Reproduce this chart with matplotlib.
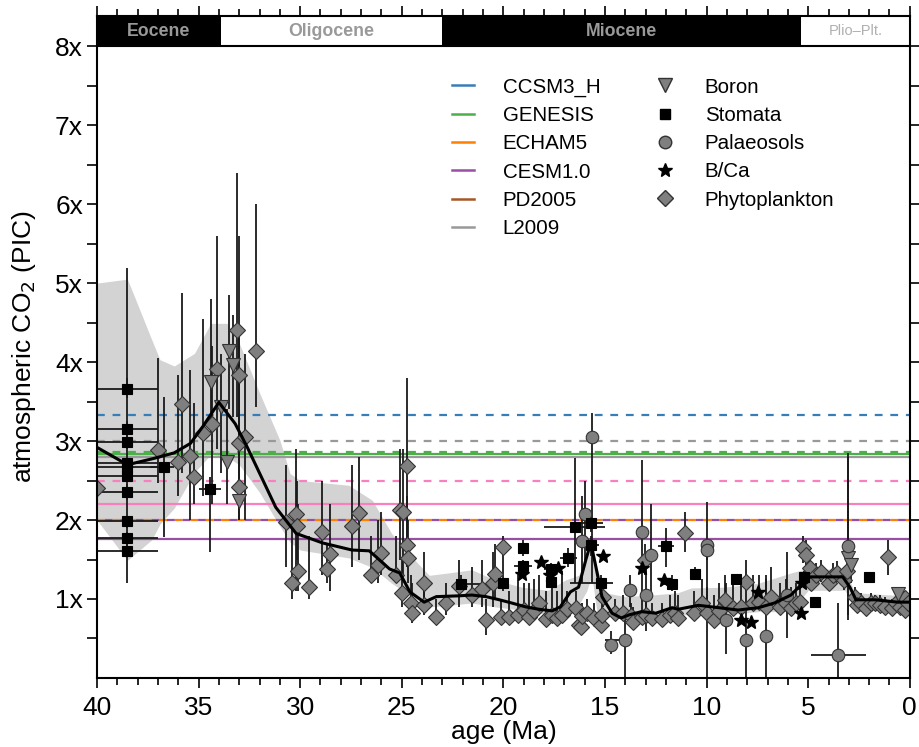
import numpy as np
import matplotlib
matplotlib.use("Agg")
import matplotlib.pyplot as plt
from matplotlib.lines import Line2D
from matplotlib.ticker import MultipleLocator, FixedLocator

plt.rcParams["font.family"] = ["Liberation Sans", "DejaVu Sans"]

# epochs (start, end, name)
epochs = [(40.0, 33.9, "Eocene"), (33.9, 23.03, "Oligocene"),
          (23.03, 5.33, "Miocene"), (5.33, 0.0, "Plio\u2013Plt.")]

# model CO2 levels (PIC multiples)
model_names = ["CCSM3_H", "GENESIS", "ECHAM5", "CESM1.0", "PD2005", "L2009"]
model_colors = ["#377eb8", "#4daf4a", "#ff7f00", "#984ea3", "#a65628", "#999999"]
model_solid = [None, 2.84, None, 1.76, None, 2.80]
model_dashed = [3.33, 2.86, 2.0, 2.0, None, 3.0]
pink_solid = 2.2
pink_dashed = 2.5

# smoothed median curve
med_age = [40.0, 38.5, 37.2, 36.2, 35.4, 34.8, 34.0, 33.2, 32.6, 31.2, 30.2, 28.9,
           27.45, 26.6, 25.6, 25.1, 24.6, 23.9, 23.3, 22.2, 21.55, 20.85, 20.2, 19.6,
           18.9, 18.25, 17.6, 17.2, 16.7, 16.3, 15.95, 15.7, 15.45, 15.15, 14.65, 14.2,
           13.8, 13.2, 12.5, 11.7, 11.4, 10.4, 9.4, 8.45, 7.45, 6.65, 5.85, 5.35, 4.9,
           4.2, 3.3, 2.95, 2.65, 1.7, 0.6, 0.0]
med_co2 = [2.92, 2.70, 2.78, 2.85, 2.97, 3.18, 3.49, 3.22, 2.92, 2.16, 1.83, 1.71,
           1.62, 1.61, 1.38, 1.33, 1.09, 0.96, 1.03, 1.04, 1.05, 1.03, 0.99, 0.95,
           0.90, 0.87, 0.85, 0.90, 1.09, 1.15, 1.49, 1.71, 1.41, 1.03, 0.82, 0.76,
           0.80, 0.84, 0.82, 0.89, 0.87, 0.92, 0.89, 0.86, 0.89, 0.95, 1.05, 1.18, 1.28,
           1.28, 1.28, 1.15, 0.99, 0.99, 0.96, 0.96]

# uncertainty envelope
band_age = [40.0, 38.5, 37.3, 36.9, 36.2, 35.2, 34.4, 33.6, 33.0, 32.0, 31.0, 30.5,
            30.0, 27.6, 26.45, 25.5, 24.5, 23.65, 22.7, 21.55, 20.4, 19.1, 17.8,
            16.95, 16.3, 15.9, 15.65, 15.4, 15.0, 14.0, 12.7, 11.4, 10.75, 9.1, 7.45,
            5.85, 5.0, 3.2, 2.7, 0.9, 0.0]
band_hi = [5.00, 5.05, 4.28, 4.03, 3.95, 4.11, 4.49, 4.49, 4.24, 3.61, 3.01, 2.59,
           2.50, 2.44, 2.25, 1.83, 1.53, 1.30, 1.33, 1.37, 1.24, 1.15, 1.11,
           1.24, 1.30, 1.50, 1.80, 1.40, 1.08, 1.03, 1.05, 1.08, 1.14, 1.15, 1.20,
           1.33, 1.39, 1.37, 1.08, 1.05, 1.05]
band_lo = [2.00, 1.49, 1.75, 1.95, 2.15, 2.60, 2.83, 2.80, 2.70, 2.35, 1.92, 1.72,
           1.62, 1.52, 1.40, 1.20, 1.03, 0.90, 0.92, 0.95, 0.90, 0.86, 0.80,
           0.84, 0.92, 1.10, 1.30, 0.84, 0.80, 0.74, 0.76, 0.80, 0.80, 0.80, 0.84,
           0.84, 1.11, 1.11, 0.89, 0.90, 0.90]

# phytoplankton: age, co2, lower bound, upper bound
phyto_rows = [
    (40.0, 2.41, 2.35, 2.50), (37.0, 2.89, 2.47, 4.05), (36.0, 2.73, 2.30, 3.84),
    (35.8, 3.47, 2.60, 4.87), (35.4, 2.81, 2.00, 3.90), (35.2, 2.54, 2.20, 3.48),
    (34.8, 3.10, 2.30, 4.54), (34.35, 3.21, 2.20, 4.20), (34.1, 3.91, 2.90, 5.60),
    (33.1, 4.40, 3.30, 6.40), (33.0, 3.84, 2.90, 5.60), (33.0, 2.97, 2.30, 4.30),
    (32.7, 3.05, 2.00, 4.10), (33.0, 2.42, 2.00, 3.00), (32.15, 4.14, 3.43, 6.00),
    (30.7, 1.98, 1.40, 2.70), (30.2, 2.08, 1.10, 2.90), (30.15, 1.92, 1.50, 2.50),
    (30.1, 1.36, 1.10, 2.20), (30.4, 1.20, 1.00, 2.00), (29.55, 1.15, 1.00, 1.80),
    (28.95, 1.85, 1.30, 2.50), (28.7, 1.38, 1.20, 1.70), (28.55, 1.57, 1.10, 2.20),
    (27.45, 1.92, 1.40, 2.70), (27.1, 2.09, 1.50, 2.80), (26.5, 1.30, 1.20, 1.80),
    (26.15, 1.43, 1.20, 2.00), (26.0, 1.58, 1.30, 2.10), (25.3, 1.30, 1.20, 1.80),
    (25.1, 2.13, 1.50, 2.90), (24.95, 2.10, 1.30, 2.90), (24.75, 2.68, 1.50, 3.80),
    (24.75, 1.68, 1.40, 2.30), (24.7, 1.52, 1.20, 2.00), (25.0, 1.08, 0.90, 1.50),
    (24.55, 0.95, 0.80, 1.30), (24.5, 0.82, 0.70, 1.20), (23.9, 1.20, 1.00, 1.60),
    (23.9, 0.92, 0.80, 1.30), (23.3, 0.77, 0.70, 1.00), (22.8, 0.95, 0.80, 1.20),
    (22.2, 1.16, 0.90, 1.50), (21.55, 1.05, 0.90, 1.40), (21.05, 1.13, 0.90, 1.50),
    (20.85, 0.73, 0.54, 1.00), (20.5, 1.20, 0.90, 1.60), (20.4, 1.32, 1.00, 1.70),
    (20.1, 0.77, 0.70, 1.00), (20.0, 1.66, 1.30, 1.80), (19.7, 0.77, 0.70, 1.10),
    (19.3, 0.80, 0.70, 1.30), (19.0, 0.86, 0.75, 1.20), (18.75, 0.77, 0.70, 1.20),
    (18.5, 0.85, 0.75, 1.25), (18.25, 0.95, 0.80, 1.30), (17.9, 0.75, 0.70, 1.10),
    (17.6, 0.80, 0.72, 1.30), (17.35, 0.76, 0.70, 1.10), (17.1, 0.80, 0.72, 1.35),
    (16.85, 0.87, 0.80, 1.10), (16.45, 0.89, 0.80, 1.10), (16.3, 0.67, 0.60, 0.85),
    (16.2, 0.65, 0.60, 0.80), (16.15, 0.78, 0.70, 0.95), (15.9, 0.82, 0.75, 1.00),
    (15.55, 0.76, 0.70, 0.95), (15.2, 0.67, 0.60, 0.80), (15.15, 0.80, 0.72, 1.00),
    (15.1, 1.03, 0.90, 1.20), (14.5, 0.82, 0.75, 1.00), (14.1, 0.82, 0.75, 1.05),
    (13.7, 0.78, 0.70, 0.95), (13.6, 0.71, 0.65, 0.90), (13.2, 0.77, 0.70, 1.00),
    (13.05, 1.50, 1.30, 1.70), (13.0, 0.80, 0.72, 1.00), (12.7, 0.76, 0.70, 0.95),
    (12.2, 0.75, 0.68, 0.95), (11.8, 0.80, 0.72, 1.05), (11.55, 0.82, 0.75, 1.10),
    (11.4, 0.76, 0.70, 1.05), (11.05, 1.83, 1.60, 2.10), (10.6, 0.82, 0.75, 1.10),
    (10.25, 0.95, 0.85, 1.25), (10.0, 0.82, 0.75, 1.15), (9.65, 0.73, 0.66, 1.05),
    (9.4, 0.85, 0.78, 1.20), (9.1, 0.99, 0.88, 1.30), (8.7, 0.89, 0.80, 1.25),
    (8.3, 0.90, 0.82, 1.20), (8.05, 1.22, 1.00, 1.50), (7.7, 0.95, 0.85, 1.30),
    (7.4, 0.96, 0.86, 1.30), (7.1, 0.90, 0.82, 1.25), (6.85, 1.02, 0.90, 1.40),
    (6.4, 0.90, 0.82, 1.20), (6.1, 0.95, 0.85, 1.25), (5.85, 0.89, 0.80, 1.15),
    (5.6, 0.95, 0.85, 1.20), (5.4, 0.96, 0.86, 1.20), (5.25, 1.65, 1.45, 1.80),
    (5.1, 1.56, 1.40, 1.75), (4.9, 1.39, 1.25, 1.55), (4.85, 1.20, 1.10, 1.35),
    (4.6, 1.30, 1.20, 1.45), (4.35, 1.34, 1.22, 1.50), (4.0, 1.20, 1.10, 1.35),
    (3.8, 1.30, 1.20, 1.45), (3.6, 1.33, 1.22, 1.48), (3.25, 1.24, 1.12, 1.40),
    (3.1, 1.35, 1.22, 1.50), (2.7, 1.03, 0.95, 1.15), (2.6, 0.92, 0.85, 1.05),
    (2.4, 0.95, 0.88, 1.08), (2.15, 0.89, 0.82, 1.00), (1.9, 0.95, 0.88, 1.08),
    (1.7, 0.95, 0.88, 1.05), (1.45, 0.93, 0.86, 1.05), (1.2, 0.90, 0.83, 1.02),
    (1.05, 1.53, 1.30, 1.75), (0.9, 0.89, 0.82, 1.00), (0.7, 0.95, 0.88, 1.05),
    (0.5, 0.90, 0.83, 1.02), (0.25, 1.01, 0.92, 1.10), (0.25, 0.86, 0.80, 0.95),
    (0.1, 0.95, 0.88, 1.05),
]

# boron: age, co2, lower, upper
boron_rows = [
    (34.4, 3.75, 3.10, 4.80), (33.5, 4.14, 3.40, 4.85), (33.3, 3.96, 3.30, 4.60),
    (33.9, 3.43, 2.60, 4.10), (33.6, 2.73, 2.20, 3.40), (33.0, 2.24, 2.00, 2.50),
    (3.05, 1.52, 0.73, 2.85), (2.9, 1.43, 1.20, 1.70), (0.6, 1.06, 0.98, 1.12),
]

# stomata: age, co2, lower, upper, age old, age young
stomata_rows = [
    (38.5, 3.66, 3.55, 3.80, 40.0, 35.9), (38.5, 3.15, 3.05, 3.25, 40.0, 35.9),
    (38.5, 2.99, 2.90, 3.10, 40.0, 35.9), (38.5, 2.72, 1.20, 5.19, 40.0, 35.9),
    (38.5, 2.67, 2.60, 2.75, 40.0, 35.9), (38.5, 2.56, 2.50, 2.65, 40.0, 35.9),
    (38.5, 2.35, 2.25, 2.45, 40.0, 35.9), (38.5, 1.99, 1.90, 2.05, 40.0, 35.9),
    (38.5, 1.77, 1.70, 1.85, 40.0, 35.9), (38.5, 1.61, 1.55, 1.70, 40.0, 35.9),
    (36.7, 2.67, 1.78, 3.56, 37.2, 36.0), (34.45, 2.39, 1.60, 2.55, 35.0, 33.9),
    (22.1, 1.19, 1.10, 1.30, 24.0, 21.9), (20.0, 1.20, 1.10, 1.30, 20.0, 20.0),
    (19.05, 1.64, 1.55, 1.75, 19.05, 19.05), (19.05, 1.42, 1.35, 1.50, 19.5, 18.6),
    (17.65, 1.38, 1.30, 1.45, 18.0, 17.3), (17.65, 1.22, 1.15, 1.30, 17.65, 17.65),
    (16.8, 1.52, 1.40, 1.65, 17.2, 16.4), (16.5, 1.91, 1.20, 2.78, 18.0, 15.0),
    (15.7, 1.96, 1.85, 2.05, 16.3, 15.0), (15.7, 1.68, 1.55, 1.80, 16.1, 15.3),
    (15.2, 1.20, 1.10, 1.30, 15.8, 13.7), (12.0, 1.67, 1.40, 1.90, 12.4, 11.6),
    (11.7, 1.19, 1.10, 1.30, 12.0, 11.2), (10.55, 1.32, 1.25, 1.40, 10.55, 10.55),
    (8.55, 1.25, 1.20, 1.30, 8.55, 8.55), (5.2, 1.28, 1.20, 1.35, 5.2, 5.2),
    (4.65, 0.96, 0.90, 1.00, 4.65, 4.65), (2.0, 1.28, 1.22, 1.34, 2.0, 2.0),
]

# palaeosols: age, co2, lower, upper, age old, age young
paleo_rows = [
    (15.65, 3.05, 1.20, 3.35, 15.65, 15.65), (16.0, 2.07, 1.50, 2.50, 16.0, 16.0),
    (16.15, 1.73, 1.20, 2.30, 16.15, 16.15), (13.2, 1.85, 0.99, 2.76, 13.2, 13.2),
    (12.75, 1.56, 1.00, 2.20, 12.75, 12.75), (13.75, 1.11, 0.90, 1.30, 13.75, 13.75),
    (13.0, 1.05, 0.60, 1.40, 13.0, 13.0), (14.7, 0.42, 0.30, 0.60, 14.7, 14.7),
    (14.0, 0.48, 0.00, 0.80, 14.0, 13.0), (10.0, 1.68, 0.00, 2.23, 10.0, 10.0),
    (10.0, 1.62, 1.50, 1.70, 10.0, 10.0), (9.03, 0.73, 0.30, 1.20, 9.03, 9.03),
    (8.05, 0.48, 0.00, 1.00, 8.05, 8.05), (7.07, 0.53, 0.00, 1.30, 7.07, 7.07),
    (6.05, 1.05, 0.50, 1.60, 6.05, 6.05), (3.04, 1.67, 0.80, 2.80, 3.04, 3.04),
    (3.53, 0.29, 0.00, 0.95, 4.9, 2.2),
]

# B/Ca
bca_age = [18.15, 19.1, 17.3, 15.1, 13.2, 12.1, 7.45, 8.3, 7.8, 5.35, 5.3, 17.7]
bca_co2 = [1.47, 1.32, 1.39, 1.54, 1.39, 1.24, 1.09, 0.73, 0.71, 0.82, 1.20, 1.30]

fig = plt.figure(figsize=(9.19, 7.47), dpi=100)
ax = fig.add_axes([0.1055, 0.0924, 0.8845, 0.886])

ytop = 8.38
gray_pt = "#7f7f7f"
edge_pt = "#333333"
ecol = "#1a1a1a"

ax.fill_between(band_age, band_lo, band_hi, color="#d3d3d3", lw=0, zorder=1)

# model lines
for name, col, s, d in zip(model_names, model_colors, model_solid, model_dashed):
    if d is not None:
        # offset the purple dashes so they sit between the orange ones
        off = 3.5 if name == "CESM1.0" else 0
        ax.axhline(d, color=col, lw=1.6, ls=(off, (3.5, 3.5)), zorder=2)
    if s is not None:
        ax.axhline(s, color=col, lw=1.6, zorder=2)
ax.axhline(pink_dashed, color="#f781bf", lw=1.6, ls=(0, (3.5, 3.5)), zorder=2)
ax.axhline(pink_solid, color="#f781bf", lw=1.6, zorder=2)


def draw_proxy(rows, marker, face, ms, with_x=False):
    cols = list(zip(*rows))
    age = np.array(cols[0])
    co2 = np.array(cols[1])
    yerr = [co2 - np.array(cols[2]), np.array(cols[3]) - co2]
    xerr = None
    if with_x:
        xerr = [np.array(cols[4]) - age, age - np.array(cols[5])]
    ax.errorbar(age, co2, yerr=yerr, xerr=xerr, fmt="none", ecolor=ecol,
                elinewidth=1.3, capsize=0, zorder=3)
    ax.plot(age, co2, ls="none", marker=marker, ms=ms, mfc=face,
            mec=edge_pt if face != "k" else "k", mew=0.8, zorder=5)


draw_proxy(phyto_rows, "D", gray_pt, 8)
draw_proxy(boron_rows, "v", gray_pt, 10)
draw_proxy(paleo_rows, "o", gray_pt, 9, with_x=True)
draw_proxy(stomata_rows, "s", "k", 6.5, with_x=True)
ax.plot(bca_age, bca_co2, ls="none", marker="*", ms=10, color="k", zorder=5)

ax.plot(med_age, med_co2, color="k", lw=2.2, zorder=6)

# epoch bar
for a0, a1, name in epochs:
    face = "k" if name in ("Eocene", "Miocene") else "white"
    ax.fill_between([a0, a1], 8.0, ytop, color=face, lw=0, zorder=7)
    if name.startswith("Plio"):
        ax.text((a0 + a1) / 2, 8.19, name, ha="center", va="center",
                color="#b0b0b0", fontsize=10.5, zorder=8)
    else:
        ax.text((a0 + a1) / 2, 8.19, name, ha="center", va="center",
                color="#999999", fontsize=12.8, fontweight="bold", zorder=8)
ax.axhline(8.0, color="k", lw=1.5, zorder=8)

ax.set_xlim(40, 0)
ax.set_ylim(0, ytop)
ax.xaxis.set_major_locator(MultipleLocator(5))
ax.xaxis.set_minor_locator(MultipleLocator(1))
ax.yaxis.set_major_locator(FixedLocator(range(1, 9)))
ax.yaxis.set_minor_locator(FixedLocator(np.arange(0.5, 8.0, 1.0)))
ax.set_yticklabels([f"{i}x" for i in range(1, 9)])
ax.tick_params(which="both", direction="out", top=True, right=True,
               labelsize=19, width=1.2)
ax.tick_params(which="major", length=7)
ax.tick_params(which="minor", length=5)
ax.tick_params(axis="y", which="minor", length=7)
ax.tick_params(axis="x", pad=6)
ax.tick_params(axis="y", pad=3)
for sp in ax.spines.values():
    sp.set_linewidth(1.5)
    sp.set_zorder(9)

ax.set_xlabel("age (Ma)", fontsize=19, labelpad=0)
ax.set_ylabel("atmospheric CO$_2$ (PIC)", fontsize=19, labelpad=12)

# legend
handles = [Line2D([], [], color=c, lw=1.8) for c in model_colors]
labels = list(model_names)
handles += [
    Line2D([], [], ls="none", marker="v", ms=10, mfc=gray_pt, mec=edge_pt),
    Line2D([], [], ls="none", marker="s", ms=7, mfc="k", mec="k"),
    Line2D([], [], ls="none", marker="o", ms=9, mfc=gray_pt, mec=edge_pt),
    Line2D([], [], ls="none", marker="*", ms=10, color="k"),
    Line2D([], [], ls="none", marker="D", ms=8, mfc=gray_pt, mec=edge_pt),
    Line2D([], [], ls="none"),
]
labels += ["Boron", "Stomata", "Palaeosols", "B/Ca", "Phytoplankton", ""]
leg = ax.legend(handles, labels, ncol=2, frameon=False, fontsize=14.8,
                loc="upper left", bbox_to_anchor=(0.414, 0.935),
                handlelength=1.07, handletextpad=1.4, columnspacing=2.6,
                labelspacing=0.45)
leg.set_zorder(10)

fig.savefig("out.png", dpi=100)
